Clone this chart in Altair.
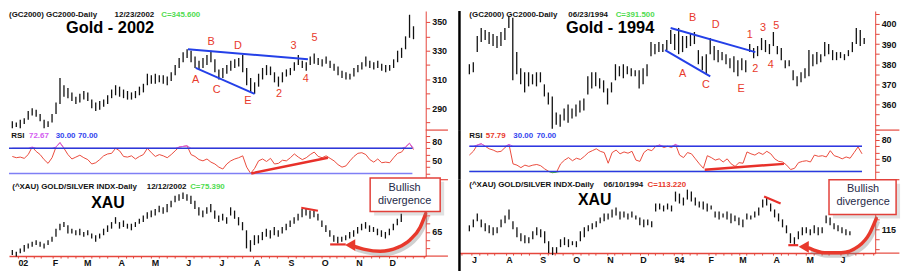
import altair as alt
import pandas as pd

FONT = "Liberation Sans"
AXRED = "#e5463c"
LABRED = "#e8392c"
TREND_BLUE = "#2440e8"
GREEN = "#4fdc4f"
VIOLET = "#d35cf0"

# ======================= Gold 2002 (left panel) =======================
L_XDOM = ["2001-12-24", "2003-01-03"]
L_PRICE_SPAN = ["2001-12-27", "2002-12-23"]
L_PRICE_LO = [276,277,276,279,282,285,284,281,276,277,
              280,286,293,298,297,295,293,294,296,295,
              290,288,289,291,293,297,299,298,297,296,
              296,297,299,301,306,307,307,308,307,306,
              309,313,318,322,325,322,318,317,318,320,
              322,315,310,311,314,316,318,319,315,306,
              301,300,305,310,313,313,308,305,308,312,
              313,316,320,318,316,320,321,320,319,321,
              318,316,313,311,310,310,312,315,317,319,
              318,317,318,316,315,316,318,322,325,331,
              339,338]
L_PRICE_HI = [281,280,282,283,288,290,289,286,282,281,
              286,294,311,306,304,301,298,300,302,301,
              296,294,295,296,299,303,306,305,303,302,
              301,302,305,307,314,313,314,313,313,312,
              315,320,325,329,331,330,326,323,325,327,
              330,324,317,318,320,323,324,325,327,318,
              311,308,314,318,320,319,315,312,315,317,
              318,322,327,323,322,326,328,325,324,326,
              323,321,319,316,315,314,318,320,322,326,
              323,322,323,321,320,320,324,330,332,340,
              355,347]
L_RSI_SPAN = ["2001-12-27", "2002-12-23"]
L_RSI = [57,55,56,54,60,72,65,60,52,46,
         55,72,79,70,60,53,56,59,55,52,
         45,47,52,58,61,62,70,66,57,56,
         58,53,57,60,70,63,57,60,58,55,
         60,66,72,73,74,60,57,52,50,53,
         48,45,40,37,45,50,53,55,58,40,
         30,38,50,53,49,54,45,46,51,50,
         55,61,56,52,55,60,64,57,55,58,
         54,50,44,40,42,50,57,62,63,60,
         52,48,53,47,48,47,55,62,64,72,
         78,68]
L_XAU_SPAN = ["2001-12-27", "2002-12-12"]
L_XAU_LO = [51,50,52,53,55,56,57,56,55,57,
            59,62,66,68,64,64,63,63,62,63,
            61,59,61,63,65,67,70,67,68,67,
            66,68,70,71,73,74,75,77,76,77,
            80,83,84,85,84,82,79,75,74,76,
            77,73,71,72,70,75,73,69,66,55,
            53,57,58,60,62,61,63,62,64,66,
            68,70,72,74,75,73,74,72,68,65,
            62,59,58,59,60,61,62,64,66,67,
            65,65,63,62,61,63,66,69,71]
L_XAU_HI = [54,53,55,57,58,59,60,59,58,60,
            62,67,70,71,69,67,66,67,65,66,
            64,63,64,67,69,71,74,71,72,70,
            70,71,73,75,77,78,79,81,80,82,
            84,87,88,89,88,87,84,80,78,80,
            82,78,75,76,74,80,78,74,71,66,
            60,63,63,65,67,66,68,66,68,70,
            72,74,76,79,79,78,78,76,72,69,
            66,63,62,62,63,65,66,68,70,71,
            69,68,67,66,65,67,70,73,76]
L_PRICE_DOM = [274.8, 357.6]
L_RSI_DOM = [20, 99]
L_XAU_DOM = [50.3, 96.8]
L_PRICE_TICKS = [280, 290, 300, 310, 320, 330, 340, 350]
L_PRICE_LABELS = [290, 310, 330, 350]
L_XAU_TICKS = [55, 60, 65, 70, 75, 80, 85, 90, 95]
L_XAU_LABELS = [65]
L_TREND = [("2002-06-03", 331, "u"), ("2002-09-19", 324, "u"),
           ("2002-06-10", 318, "l"), ("2002-08-02", 300, "l")]
L_WAVE = [("2002-06-10", 309.5, "A"), ("2002-06-24", 336, "B"), ("2002-06-29", 303, "C"),
          ("2002-07-18", 333, "D"), ("2002-07-27", 295, "E"), ("2002-08-24", 300, "2"),
          ("2002-09-06", 333, "3"), ("2002-09-17", 310, "4"), ("2002-09-25", 339, "5")]
L_TITLE = [("2002-03-25", 345.9, "Gold - 2002")]
L_PRICE_HEAD = [("2001-12-24", 354.8, "(GC2000) GC2000-Daily", "#111111"),
                ("2002-03-29", 354.8, "12/23/2002", "#111111"),
                ("2002-05-10", 354.8, "C=345.600", GREEN)]
L_RSI_HEAD = [("2001-12-26", 89.5, "RSI", "#111111"), ("2002-01-11", 89.5, "72.67", VIOLET),
              ("2002-02-04", 89.5, "30.00", "#3344ee"), ("2002-02-24", 89.5, "70.00", "#3344ee")]
L_RSI_LEVELS = [("2001-12-24", "2002-12-22", 30, "#7f7ff5"), ("2001-12-24", "2002-12-22", 70, "#2a3ad8")]
L_RSI_DIV = [("2002-07-30", 30), ("2002-10-07", 55)]
L_XAU_HEAD = [("2001-12-27", 92.6, "(^XAU) GOLD/SILVER INDX-Daily", "#111111"),
              ("2002-04-27", 92.6, "12/12/2002", "#111111"),
              ("2002-06-05", 92.6, "C=75.390", GREEN)]
L_XAU_TITLE = [("2002-03-23", 82.6, "XAU")]
L_XAU_DIV = [("2002-09-13", 79.7, "t"), ("2002-09-28", 77.9, "t"),
             ("2002-10-09", 57.4, "b"), ("2002-10-23", 57.4, "b")]
L_ARROW = [("2002-10-30", 56.4), ("2002-11-09", 54.4), ("2002-11-23", 53.2), ("2002-12-09", 55.6),
           ("2002-12-20", 60.3), ("2002-12-29", 67.9), ("2003-01-03", 76.2)]
L_ARROW_HEAD = [("2002-10-27", 57.0)]
L_BOX = [("2002-11-14", "2003-01-16", 77.4, 97.9)]
L_BOX_TEXT = [("2002-12-15", 92.0, "Bullish"), ("2002-12-15", 83.8, "divergence")]
L_SEP_END = "2003-01-23"
L_LABEL_CUT = "2002-12-28"

# ======================= Gold 1994 (right panel) =======================
R_XDOM = ["1993-06-20", "1994-07-03"]
R_PRICE_SPAN = ["1993-06-29", "1994-06-23"]
R_PRICE_LO = [375,376,386,391,392,390,389,388,389,392,
              398,372,375,370,366,369,370,369,371,364,
              360,348,350,349,352,351,353,354,356,357,
              365,368,369,368,366,360,366,372,374,373,
              375,374,374,368,370,374,384,385,386,386,
              387,390,387,385,386,388,389,390,380,377,
              375,385,382,381,382,380,378,376,374,377,
              376,386,383,384,387,386,385,389,385,382,
              378,379,372,369,371,373,374,379,380,381,
              384,385,382,382,383,382,384,386,390,389,
              390]
R_PRICE_HI = [380,381,394,398,397,396,395,394,396,398,
              404,403,386,378,376,376,375,376,376,370,
              366,364,356,355,358,360,358,360,362,363,
              374,376,376,373,372,368,371,380,379,380,
              379,378,377,377,378,380,391,390,391,390,
              392,397,395,398,394,394,395,396,387,384,
              385,393,389,387,386,385,383,384,382,383,
              382,390,388,389,393,392,390,396,389,388,
              382,382,377,374,376,378,387,385,386,385,
              391,390,387,386,386,385,387,391,398,397,
              393]
R_RSI_SPAN = ["1993-06-29", "1994-06-21"]
R_RSI = [56,62,72,74,70,66,64,61,62,68,
         73,42,40,36,40,38,40,41,39,34,
         30,28,29,42,48,52,47,51,49,54,
         60,63,66,62,60,43,60,64,58,61,
         59,62,48,46,60,65,63,70,72,68,
         70,68,73,56,52,60,58,50,42,35,
         55,52,48,50,45,50,42,38,44,43,
         61,58,56,60,57,62,58,50,46,45,
         40,33,35,44,46,47,45,56,54,55,
         53,63,55,53,50,53,51,60,69,58]
R_XAU_SPAN = ["1993-06-29", "1994-06-10"]
R_XAU_LO = [114,116,119,116,114,113,112,113,116,118,
            120,115,111,109,108,108,110,112,111,108,
            103,102,103,106,107,106,107,106,109,111,
            114,115,116,118,119,120,121,122,120,121,
            120,121,120,117,116,117,116,124,125,124,
            125,124,129,128,127,130,129,127,126,125,
            124,125,121,120,121,120,118,119,117,116,
            120,120,121,122,126,127,124,121,119,116,
            113,108,107,110,112,113,112,113,112,113,
            118,117,115,114,113,112,112]
R_XAU_HI = [117,120,123,120,118,117,116,116,120,122,
            125,119,116,113,112,111,114,116,115,114,
            109,106,106,110,111,110,109,109,114,116,
            117,118,119,121,123,123,125,126,124,124,
            123,124,122,121,120,120,119,128,128,127,
            128,127,134,133,131,135,134,131,129,129,
            128,127,124,124,123,124,123,122,121,120,
            123,122,124,126,130,131,128,125,123,120,
            117,113,111,114,116,116,115,117,116,116,
            122,121,118,117,116,115,114]
R_PRICE_DOM = [347.3, 406.4]
R_RSI_DOM = [16.8, 95.8]
R_XAU_DOM = [103, 140]
R_PRICE_TICKS = [350, 355, 360, 365, 370, 375, 380, 385, 390, 395, 400, 405]
R_PRICE_LABELS = [360, 370, 380, 390, 400]
R_XAU_TICKS = [105, 110, 115, 120, 125, 130, 135, 140]
R_XAU_LABELS = [115]
R_TREND = [("1993-12-29", 398, "u"), ("1994-03-16", 386, "u"),
           ("1993-12-24", 387, "l"), ("1994-02-03", 374, "l")]
R_WAVE = [("1994-01-09", 375, "A"), ("1994-01-18", 403, "B"), ("1994-01-30", 369.5, "C"),
          ("1994-02-08", 399.5, "D"), ("1994-03-03", 367.5, "E"), ("1994-03-11", 394.6, "1"),
          ("1994-03-16", 377.8, "2"), ("1994-03-23", 398, "3"), ("1994-03-30", 379.8, "4"),
          ("1994-04-04", 399, "5")]
R_TITLE = [("1993-11-04", 398, "Gold - 1994")]
R_PRICE_HEAD = [("1993-06-29", 404.4, "(GC2000) GC2000-Daily", "#111111"),
                ("1993-09-27", 404.4, "06/23/1994", "#111111"),
                ("1993-11-09", 404.4, "C=391.500", GREEN)]
R_RSI_HEAD = [("1993-06-29", 86.3, "RSI", "#111111"), ("1993-07-14", 86.3, "57.79", LABRED),
              ("1993-08-08", 86.3, "30.00", "#3344ee"), ("1993-08-29", 86.3, "70.00", "#3344ee")]
R_RSI_LEVELS = [("1993-06-29", "1994-06-21", 30, "#2a3ae0"), ("1993-06-29", "1994-06-21", 70, "#2a3ae0")]
R_RSI_DIV = [("1994-01-29", 32.6), ("1994-04-11", 42)]
R_XAU_HEAD = [("1993-06-29", 137.5, "(^XAU) GOLD/SILVER INDX-Daily", "#111111"),
              ("1993-10-29", 137.5, "06/10/1994", "#111111"),
              ("1993-12-08", 137.5, "C=113.220", LABRED)]
R_XAU_TITLE = [("1993-10-21", 130, "XAU")]
R_XAU_DIV = [("1994-03-24", 131.5, "t"), ("1994-04-08", 128, "t"),
             ("1994-04-15", 107, "b"), ("1994-04-24", 107, "b")]
R_ARROW = [("1994-05-04", 105.5), ("1994-05-18", 103.2), ("1994-06-02", 103.2), ("1994-06-18", 106.5),
           ("1994-06-28", 113), ("1994-07-04", 120.5)]
R_ARROW_HEAD = [("1994-04-29", 106.2)]
R_BOX = [("1994-05-22", "1994-07-22", 122.5, 140)]
R_BOX_TEXT = [("1994-06-22", 135.5, "Bullish"), ("1994-06-22", 128.6, "divergence")]
R_SEP_END = "1994-07-25"
R_LABEL_CUT = "1994-06-25"


# ======================= helpers =======================
def dt(s):
    t = pd.Timestamp(s)
    return alt.DateTime(year=t.year, month=t.month, date=t.day)


def series(span, lo, hi=None, name="lo"):
    d = pd.date_range(pd.Timestamp(span[0]), pd.Timestamp(span[1]), periods=len(lo))
    df = pd.DataFrame({"d": d, name: lo})
    if hi is not None:
        df["hi"] = hi
    return df


def frame(rows, cols, dates=("d",)):
    df = pd.DataFrame(rows, columns=cols)
    for c in dates:
        df[c] = pd.to_datetime(df[c])
    return df


def month_axis(xdom, cut):
    start, end = pd.Timestamp(xdom[0]), pd.Timestamp(xdom[1])
    vals = []
    for m in pd.date_range(start.replace(day=1), end, freq="MS"):
        for day in (1, 8, 15, 22):
            t = m.replace(day=day)
            if start <= t <= end:
                vals.append(alt.DateTime(year=t.year, month=t.month, date=t.day))
    cut_ms = int(pd.Timestamp(cut).timestamp() * 1000)
    expr = (f"datum.value > {cut_ms} ? '' : (date(datum.value) == 1 ? "
            "(month(datum.value) == 0 ? timeFormat(datum.value, '%y') : "
            "slice(timeFormat(datum.value, '%b'), 0, 1)) : '')")
    return alt.Axis(values=vals, labelExpr=expr, domainColor=AXRED, domainWidth=1.5,
                    tickColor=AXRED, tickSize=2, labelFont=FONT, labelFontSize=9,
                    labelFontWeight="bold", labelColor="#111111", labelAlign="left",
                    labelPadding=0, labelOverlap=False, labelFlush=False, grid=False)


def y_axis(ticks, labels):
    cond = " || ".join(f"datum.value == {v}" for v in labels)
    return alt.Axis(orient="right", values=ticks, labelExpr=f"({cond}) ? datum.label : ''",
                    domainColor=AXRED, tickColor=AXRED, tickSize=4, labelFont=FONT,
                    labelFontSize=9, labelFontWeight="bold", labelColor="#111111",
                    labelPadding=2, labelOverlap=False, labelFlush=False, grid=False)


def panel(P, right_side):
    W = P["W"]
    xs = alt.Scale(domain=[dt(P["xdom"][0]), dt(P["xdom"][1])])
    xmax = pd.Timestamp(P["xdom"][1])
    xmin = pd.Timestamp(P["xdom"][0])

    def mkX(axis):
        def X(f="d"):
            return alt.X(f"{f}:T", scale=xs, axis=axis, title=None)
        return X

    def mkY(dom, ticks, labels):
        sc = alt.Scale(domain=list(dom), nice=False, zero=False)
        ax = y_axis(ticks, labels)

        def Y(f="v"):
            return alt.Y(f"{f}:Q", scale=sc, axis=ax, title=None)
        return Y

    def head(df, X, Y):
        return alt.Chart(df).mark_text(font=FONT, fontSize=8, fontWeight="bold", align="left",
                                       baseline="middle").encode(
            x=X(), y=Y(), text="t:N", color=alt.Color("c:N", scale=None))

    def sep(X, Y, v):
        df = pd.DataFrame({"d1": [xmax], "d2": [pd.Timestamp(P["sep_end"])], "v": [v]})
        return alt.Chart(df).mark_rule(color=AXRED, strokeWidth=1.2).encode(x=X("d1"), x2="d2", y=Y())

    def blackline(X, Y, top, bottom):
        df = pd.DataFrame({"d": [xmin], "v": [top], "v2": [bottom]})
        return alt.Chart(df).mark_rule(color="#000000", strokeWidth=2.5).encode(x=X(), y=Y("v"), y2="v2")

    # ---------- price ----------
    X = mkX(None)
    Y = mkY(P["price_dom"], P["price_ticks"], P["price_labels"])
    pb = series(P["price_span"], P["price_lo"], P["price_hi"])
    lay = [
        alt.Chart(pb).mark_rule(color="#111111", strokeWidth=1.3).encode(x=X(), y=Y("lo"), y2="hi"),
        alt.Chart(frame(P["trend"], ["d", "v", "g"])).mark_line(color=TREND_BLUE, strokeWidth=2).encode(
            x=X(), y=Y(), detail="g:N"),
        alt.Chart(frame(P["wave"], ["d", "v", "t"])).mark_text(font=FONT, fontSize=11, color=LABRED).encode(
            x=X(), y=Y(), text="t:N"),
        alt.Chart(frame(P["title"], ["d", "v", "t"])).mark_text(font=FONT, fontSize=16.5, fontWeight="bold",
                                                                  color="#000000").encode(x=X(), y=Y(), text="t:N"),
        head(frame(P["price_head"], ["d", "v", "t", "c"]), X, Y),
        sep(X, Y, P["price_dom"][0]),
    ]
    if right_side:
        lay.append(blackline(X, Y, P["price_dom"][1], P["price_dom"][0]))
    price = alt.layer(*lay).properties(width=W, height=P["h_price"])

    # ---------- RSI ----------
    Y = mkY(P["rsi_dom"], [30, 40, 50, 60, 70, 80, 90], [50, 80])
    rs = series(P["rsi_span"], P["rsi"], name="v")
    lay = [
        alt.Chart(rs).mark_line(color="#ea4b3c", strokeWidth=1).encode(x=X(), y=Y()),
        alt.Chart(rs).transform_calculate(vv="max(datum.v, 70)").mark_line(
            color=VIOLET, strokeWidth=1).encode(x=X(), y=Y("vv")),
    ]
    if right_side:
        lay.append(alt.Chart(rs).transform_calculate(vw="min(datum.v, 30)").mark_line(
            color="#33cc33", strokeWidth=1).encode(x=X(), y=Y("vw")))
    lay += [
        alt.Chart(frame(P["rsi_levels"], ["d1", "d2", "v", "c"], dates=("d1", "d2"))).mark_rule(
            strokeWidth=1.5).encode(x=X("d1"), x2="d2", y=Y(), color=alt.Color("c:N", scale=None)),
        alt.Chart(frame(P["rsi_div"], ["d", "v"])).mark_line(color="#e8302a", strokeWidth=2.5).encode(
            x=X(), y=Y()),
        head(frame(P["rsi_head"], ["d", "v", "t", "c"]), X, Y),
        sep(X, Y, P["rsi_dom"][0]),
    ]
    if right_side:
        lay.append(blackline(X, Y, P["rsi_dom"][1], P["rsi_dom"][0]))
    rsi = alt.layer(*lay).properties(width=W, height=P["h_rsi"])

    # ---------- XAU ----------
    X = mkX(month_axis(P["xdom"], P["label_cut"]))
    Y = mkY(P["xau_dom"], P["xau_ticks"], P["xau_labels"])
    xb = series(P["xau_span"], P["xau_lo"], P["xau_hi"])
    arrow = frame(P["arrow"], ["d", "v"])
    box = frame(P["box"], ["d1", "d2", "v1", "v2"], dates=("d1", "d2"))
    lay = [
        alt.Chart(xb).mark_rule(color="#111111", strokeWidth=1.3).encode(x=X(), y=Y("lo"), y2="hi"),
        alt.Chart(frame(P["xau_div"], ["d", "v", "g"])).mark_line(color="#e8302a", strokeWidth=2.2).encode(
            x=X(), y=Y(), detail="g:N"),
        head(frame(P["xau_head"], ["d", "v", "t", "c"]), X, Y),
        alt.Chart(frame(P["xau_title"], ["d", "v", "t"])).mark_text(font=FONT, fontSize=16, fontWeight="bold",
                                                                      color="#000000").encode(
            x=X(), y=Y(), text="t:N"),
        alt.Chart(arrow).mark_line(interpolate="monotone", color="#777777", strokeWidth=4, opacity=0.35,
                                   xOffset=2, yOffset=3).encode(x=X(), y=Y()),
        alt.Chart(arrow).mark_line(interpolate="monotone", color=LABRED, strokeWidth=3.5,
                                   strokeCap="round").encode(x=X(), y=Y()),
        alt.Chart(frame(P["arrow_head"], ["d", "v"])).mark_point(shape="triangle-left", filled=True, size=140,
                                                                  color=LABRED, opacity=1).encode(x=X(), y=Y()),
        alt.Chart(box).mark_rect(color="#888888", opacity=0.25, xOffset=4, x2Offset=4, yOffset=4,
                                 y2Offset=4).encode(x=X("d1"), x2="d2", y=Y("v1"), y2="v2"),
        alt.Chart(box).mark_rect(fill="#ffffff", stroke="#e2403a", strokeWidth=1.5).encode(
            x=X("d1"), x2="d2", y=Y("v1"), y2="v2"),
        alt.Chart(frame(P["box_text"], ["d", "v", "t"])).mark_text(font=FONT, fontSize=11,
                                                                     color="#1f2a48").encode(
            x=X(), y=Y(), text="t:N"),
        sep(X, Y, P["xau_dom"][0]),
    ]
    if right_side:
        lay.append(blackline(X, Y, P["xau_dom"][1], P["xau_dom"][0] - 9.0))
    xau = alt.layer(*lay).properties(width=W, height=P["h_xau"])

    return alt.vconcat(price, rsi, xau, spacing=0, bounds="flush")


LEFT = dict(W=420, h_price=120, h_rsi=50, h_xau=77, xdom=L_XDOM, label_cut=L_LABEL_CUT, sep_end=L_SEP_END,
            price_span=L_PRICE_SPAN, price_lo=L_PRICE_LO, price_hi=L_PRICE_HI, price_dom=L_PRICE_DOM,
            price_ticks=L_PRICE_TICKS, price_labels=L_PRICE_LABELS, trend=L_TREND, wave=L_WAVE,
            title=L_TITLE, price_head=L_PRICE_HEAD, rsi_span=L_RSI_SPAN, rsi=L_RSI, rsi_dom=L_RSI_DOM,
            rsi_levels=L_RSI_LEVELS, rsi_div=L_RSI_DIV, rsi_head=L_RSI_HEAD, xau_span=L_XAU_SPAN,
            xau_lo=L_XAU_LO, xau_hi=L_XAU_HI, xau_dom=L_XAU_DOM, xau_ticks=L_XAU_TICKS,
            xau_labels=L_XAU_LABELS, xau_div=L_XAU_DIV, xau_head=L_XAU_HEAD, xau_title=L_XAU_TITLE,
            arrow=L_ARROW, arrow_head=L_ARROW_HEAD, box=L_BOX, box_text=L_BOX_TEXT)
RIGHT = dict(W=419, h_price=120, h_rsi=50, h_xau=74, xdom=R_XDOM, label_cut=R_LABEL_CUT, sep_end=R_SEP_END,
             price_span=R_PRICE_SPAN, price_lo=R_PRICE_LO, price_hi=R_PRICE_HI, price_dom=R_PRICE_DOM,
             price_ticks=R_PRICE_TICKS, price_labels=R_PRICE_LABELS, trend=R_TREND, wave=R_WAVE,
             title=R_TITLE, price_head=R_PRICE_HEAD, rsi_span=R_RSI_SPAN, rsi=R_RSI, rsi_dom=R_RSI_DOM,
             rsi_levels=R_RSI_LEVELS, rsi_div=R_RSI_DIV, rsi_head=R_RSI_HEAD, xau_span=R_XAU_SPAN,
             xau_lo=R_XAU_LO, xau_hi=R_XAU_HI, xau_dom=R_XAU_DOM, xau_ticks=R_XAU_TICKS,
             xau_labels=R_XAU_LABELS, xau_div=R_XAU_DIV, xau_head=R_XAU_HEAD, xau_title=R_XAU_TITLE,
             arrow=R_ARROW, arrow_head=R_ARROW_HEAD, box=R_BOX, box_text=R_BOX_TEXT)

chart = alt.hconcat(panel(LEFT, False), panel(RIGHT, True), spacing=9).properties(
    padding={"left": 0, "top": 0, "right": 0, "bottom": 0}, background="#ffffff"
).configure_view(strokeWidth=0)

chart.save("out.html", embed_options={"renderer": "svg", "actions": False})
